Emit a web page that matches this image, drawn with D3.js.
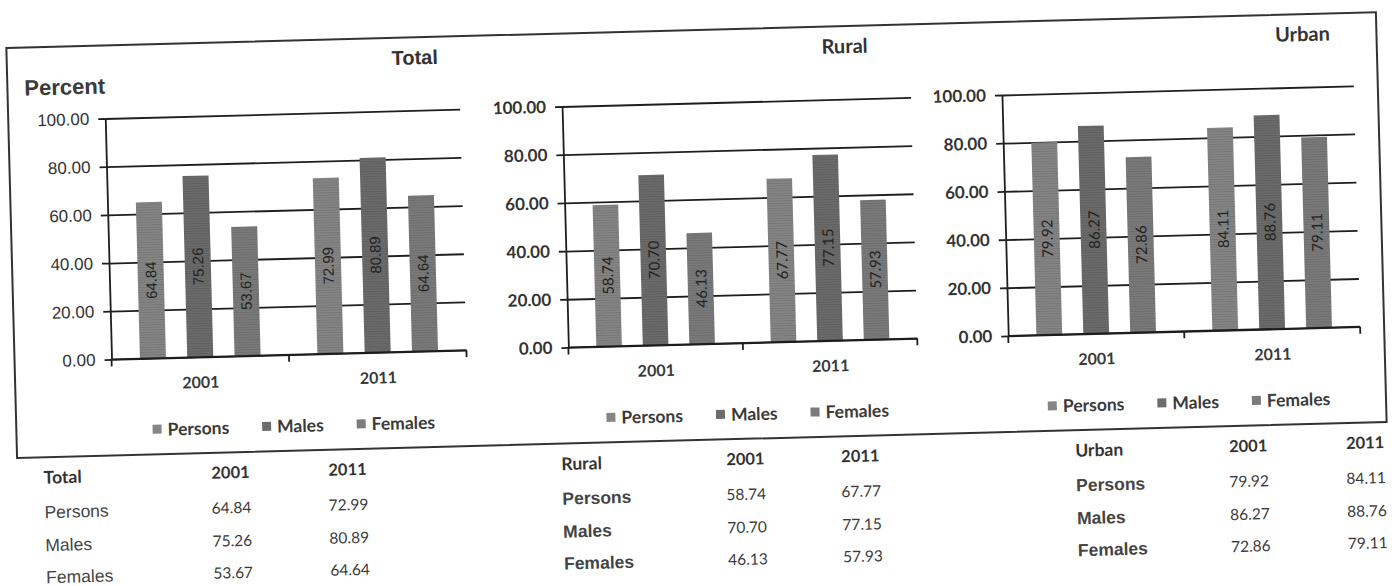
<!DOCTYPE html>
<html>
<head>
<meta charset="utf-8">
<script src="https://cdn.jsdelivr.net/npm/d3@7"></script>
<style>
  html, body { margin: 0; padding: 0; background: #ffffff; }
  svg { display: block; }
</style>
</head>
<body>
<svg id="chart" width="1398" height="586"></svg>
<script>
// Literacy rate (percent), Census 2001 and 2011
const categories = ["2001", "2011"];
const seriesNames = ["Persons", "Males", "Females"];
const yTicks = [0, 20, 40, 60, 80, 100];
const panelTitles = ["Total", "Rural", "Urban"];

const totalPersons = [64.84, 72.99];
const totalMales = [75.26, 80.89];
const totalFemales = [53.67, 64.64];

const ruralPersons = [58.74, 67.77];
const ruralMales = [70.70, 77.15];
const ruralFemales = [46.13, 57.93];

const urbanPersons = [79.92, 84.11];
const urbanMales = [86.27, 88.76];
const urbanFemales = [72.86, 79.11];

const valueSets = [
  [totalPersons, totalMales, totalFemales],
  [ruralPersons, ruralMales, ruralFemales],
  [urbanPersons, urbanMales, urbanFemales]
];

// layout of the three panels (plot area left/right edges, title centre, table columns)
const layout = [
  { left: 110, right: 465, titleX: 421, font: "'Liberation Sans', Arial, sans-serif", rowBold: false,
    tableX: 39, col2001: 226, col2011: 343 },
  { left: 567, right: 916, titleX: 851, font: "Lato, 'Open Sans', sans-serif", rowBold: true,
    tableX: 557, col2001: 741, col2011: 856 },
  { left: 1007, right: 1359, titleX: 1309, font: "Lato, 'Open Sans', sans-serif", rowBold: true,
    tableX: 1071, col2001: 1244, col2011: 1361 }
];
const plotTop = 103, plotBottom = 344;
const seriesColors = { Persons: "#868686", Males: "#6c6c6c", Females: "#7b7b7b" };
const calibri = "Lato, 'Open Sans', sans-serif";
const arial = "'Liberation Sans', Arial, sans-serif";

const svg = d3.select("#chart");

// halftone-like horizontal striping for bar fills
const defs = svg.append("defs");
seriesNames.forEach(s => {
  const p = defs.append("pattern")
    .attr("id", "fill-" + s)
    .attr("patternUnits", "userSpaceOnUse")
    .attr("width", 4).attr("height", 2.5);
  p.append("rect").attr("width", 4).attr("height", 2.5).attr("fill", seriesColors[s]);
  p.append("rect").attr("width", 4).attr("height", 1).attr("fill", d3.color(seriesColors[s]).darker(0.35));
});

// the whole sheet sits slightly tilted
const page = svg.append("g").attr("transform", "rotate(-1.5, 699, 293)");

// outer frame around the three charts
page.append("rect")
  .attr("x", 13).attr("y", 30).attr("width", 1370).attr("height", 410)
  .attr("fill", "none").attr("stroke", "#333").attr("stroke-width", 2);

page.append("text")
  .attr("x", 30).attr("y", 78)
  .attr("font-family", arial).attr("font-weight", "bold").attr("font-size", 22)
  .attr("fill", "#3a3a3a")
  .text("Percent");

panelTitles.forEach((title, i) => {
  const L = layout[i];
  const vals = valueSets[i];
  const g = page.append("g");

  const x0 = d3.scaleBand().domain(categories).range([L.left, L.right]);
  const x1 = d3.scaleBand().domain(seriesNames).range([0, x0.bandwidth()])
    .paddingInner(0.45).paddingOuter(0.6);
  const y = d3.scaleLinear().domain([0, 100]).range([plotBottom, plotTop]);

  // title
  g.append("text")
    .attr("x", L.titleX).attr("y", 57)
    .attr("text-anchor", "middle")
    .attr("font-family", i === 0 ? arial : calibri)
    .attr("font-weight", "bold").attr("font-size", 20)
    .attr("fill", "#333")
    .text(title);

  // horizontal gridlines (extend a little left of the axis)
  const grid = g.append("g")
    .attr("transform", `translate(${L.left},0)`)
    .call(d3.axisLeft(y).tickValues(yTicks).tickSize(-(L.right - L.left)).tickFormat(""));
  grid.select(".domain").remove();
  grid.selectAll(".tick line").attr("stroke", "#1e1e1e").attr("stroke-width", 1.8);

  // y axis with labels
  const yAxis = g.append("g")
    .attr("transform", `translate(${L.left},0)`)
    .call(d3.axisLeft(y).tickValues(yTicks).tickSize(7).tickSizeOuter(0).tickPadding(9)
      .tickFormat(d3.format(".2f")));
  yAxis.select(".domain").attr("stroke", "#1e1e1e").attr("stroke-width", 1.8);
  yAxis.selectAll(".tick line").attr("stroke", "#1e1e1e").attr("stroke-width", 1.8);
  yAxis.selectAll(".tick text")
    .attr("font-family", L.font)
    .attr("font-weight", i === 0 ? "normal" : "bold")
    .attr("font-size", 17)
    .attr("fill", "#333");

  // bars
  const rows = categories.map((c, ci) => ({
    cat: c,
    items: seriesNames.map((s, si) => ({ series: s, value: vals[si][ci] }))
  }));
  const groups = g.selectAll(".cat").data(rows).join("g")
    .attr("class", "cat")
    .attr("transform", d => `translate(${x0(d.cat)},0)`);
  groups.selectAll("rect").data(d => d.items).join("rect")
    .attr("x", d => x1(d.series))
    .attr("y", d => y(d.value))
    .attr("width", x1.bandwidth())
    .attr("height", d => y(0) - y(d.value))
    .attr("fill", d => `url(#fill-${d.series})`);
  groups.selectAll("text.val").data(d => d.items).join("text")
    .attr("class", "val")
    .attr("transform", d => `translate(${x1(d.series) + x1.bandwidth() / 2},${y(d.value / 2)}) rotate(-90)`)
    .attr("text-anchor", "middle")
    .attr("dominant-baseline", "central")
    .attr("font-family", L.font)
    .attr("font-size", 15)
    .attr("fill", "#222")
    .text(d => d.value.toFixed(2));

  // x axis: baseline, boundary ticks, centred category labels
  g.append("line")
    .attr("x1", L.left).attr("x2", L.right)
    .attr("y1", y(0)).attr("y2", y(0))
    .attr("stroke", "#1e1e1e").attr("stroke-width", 1.8);
  const bounds = categories.map(c => x0(c)).concat([L.right]);
  g.selectAll("line.xtick").data(bounds).join("line")
    .attr("class", "xtick")
    .attr("x1", d => d).attr("x2", d => d)
    .attr("y1", y(0)).attr("y2", y(0) + 7)
    .attr("stroke", "#1e1e1e").attr("stroke-width", 1.8);
  g.selectAll("text.xlab").data(categories).join("text")
    .attr("class", "xlab")
    .attr("x", d => x0(d) + x0.bandwidth() / 2)
    .attr("y", y(0) + 31)
    .attr("text-anchor", "middle")
    .attr("font-family", calibri).attr("font-weight", "bold").attr("font-size", 16)
    .attr("fill", "#383838")
    .text(d => d);

  // legend
  const legend = g.append("g");
  let cursor = 0;
  seriesNames.forEach(s => {
    const item = legend.append("g").attr("transform", `translate(${cursor},0)`);
    item.append("rect").attr("x", 0).attr("y", -4.5).attr("width", 9).attr("height", 9)
      .attr("fill", seriesColors[s]);
    const t = item.append("text").attr("x", 15).attr("y", 0)
      .attr("dominant-baseline", "central")
      .attr("font-family", calibri).attr("font-weight", "bold").attr("font-size", 17.5)
      .attr("fill", "#3a3a3a")
      .text(s);
    cursor += 15 + t.node().getComputedTextLength() + 33;
  });
  const legendWidth = cursor - 33;
  legend.attr("transform", `translate(${(L.left + L.right) / 2 + 3 - legendWidth / 2},415)`);

  // data table under the frame
  const table = page.append("g");
  const rowY = [460, 495, 528, 560];
  table.append("text")
    .attr("x", L.tableX).attr("y", rowY[0])
    .attr("dominant-baseline", "central")
    .attr("font-family", calibri).attr("font-weight", "bold").attr("font-size", 17.5)
    .attr("fill", "#333")
    .text(title);
  [L.col2001, L.col2011].forEach((cx, ci) => {
    table.append("text")
      .attr("x", cx).attr("y", rowY[0])
      .attr("text-anchor", "middle").attr("dominant-baseline", "central")
      .attr("font-family", calibri).attr("font-weight", "bold").attr("font-size", 16.5)
      .attr("fill", "#333")
      .text(categories[ci]);
  });
  seriesNames.forEach((s, si) => {
    table.append("text")
      .attr("x", L.tableX).attr("y", rowY[si + 1])
      .attr("dominant-baseline", "central")
      .attr("font-family", arial).attr("font-weight", L.rowBold ? "bold" : "normal")
      .attr("font-size", 17.5)
      .attr("fill", "#444")
      .text(s);
    [L.col2001, L.col2011].forEach((cx, ci) => {
      table.append("text")
        .attr("x", cx).attr("y", rowY[si + 1])
        .attr("text-anchor", "middle").attr("dominant-baseline", "central")
        .attr("font-family", calibri).attr("font-size", 15.5)
        .attr("fill", "#3a3a3a")
        .text(vals[si][ci].toFixed(2));
    });
  });
});
</script>
</body>
</html>
